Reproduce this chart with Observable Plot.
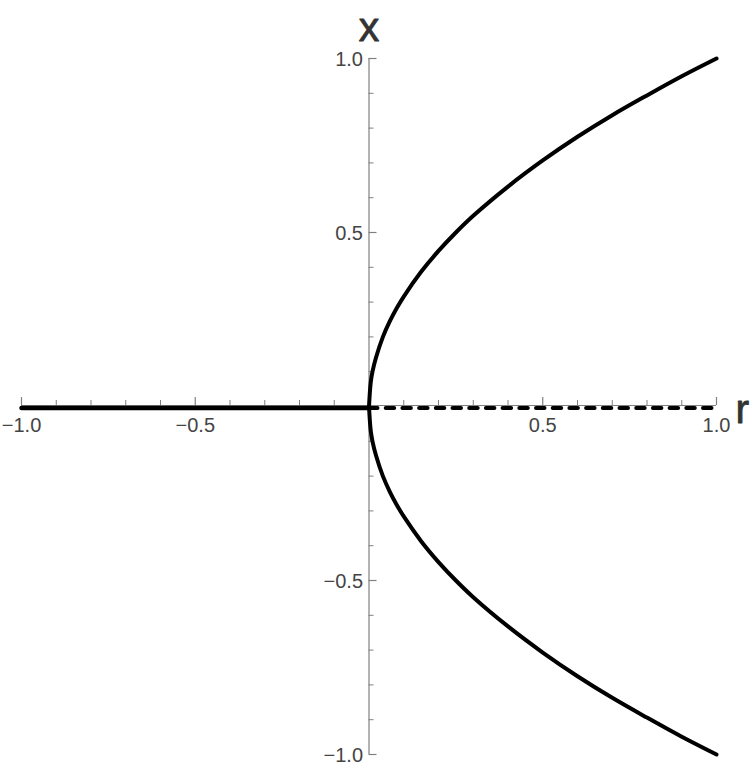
<!DOCTYPE html>
<html>
<head>
<meta charset="utf-8">
<script src="https://cdn.jsdelivr.net/npm/d3@7"></script>
<script src="https://cdn.jsdelivr.net/npm/@observablehq/plot@0.6"></script>
<style>
  html, body { margin: 0; padding: 0; background: #fff; }
  #chart svg { display: block; }
</style>
</head>
<body>
<div id="chart"></div>
<script>
// Stable branch x = 0 for r < 0
const stableZeroR = [-1.0, 0.0];
const stableZeroX = [0, 0];
// Unstable branch x = 0 for r > 0 (dashed)
const unstableZeroR = [0.0, 1.0];
const unstableZeroX = [0, 0];
// Upper stable branch
const upperR = [0, 0.005, 0.01, 0.02, 0.04, 0.06, 0.08, 0.1, 0.15, 0.2, 0.25, 0.3, 0.4, 0.5, 0.6, 0.7, 0.8, 0.9, 1.0];
const upperX = [0, 0.07, 0.1, 0.14, 0.2, 0.245, 0.283, 0.316, 0.387, 0.447, 0.5, 0.548, 0.632, 0.707, 0.775, 0.837, 0.894, 0.949, 1.0];
// Lower stable branch
const lowerR = [0, 0.005, 0.01, 0.02, 0.04, 0.06, 0.08, 0.1, 0.15, 0.2, 0.25, 0.3, 0.4, 0.5, 0.6, 0.7, 0.8, 0.9, 1.0];
const lowerX = [0, -0.07, -0.1, -0.14, -0.2, -0.245, -0.283, -0.316, -0.387, -0.447, -0.5, -0.548, -0.632, -0.707, -0.775, -0.837, -0.894, -0.949, -1.0];

// Axis ticks
const majorTicksR = [-1.0, -0.5, 0.5, 1.0];
const majorLabelsR = ["\u22121.0", "\u22120.5", "0.5", "1.0"];
const minorTicksR = [-0.9, -0.8, -0.7, -0.6, -0.4, -0.3, -0.2, -0.1, 0.1, 0.2, 0.3, 0.4, 0.6, 0.7, 0.8, 0.9];
const majorTicksX = [1.0, 0.5, -0.5, -1.0];
const majorLabelsX = ["1.0", "0.5", "\u22120.5", "\u22121.0"];
const minorTicksX = [0.9, 0.8, 0.7, 0.6, 0.4, 0.3, 0.2, 0.1, -0.1, -0.2, -0.3, -0.4, -0.6, -0.7, -0.8, -0.9];

const toPts = (rs, xs) => rs.map((r, i) => ({r, x: xs[i]}));

const font = "'Liberation Sans', Arial, sans-serif";
const axisColor = "#808080";
const labelColor = "#444444";

const plot = Plot.plot({
  width: 750,
  height: 769,
  marginLeft: 21,
  marginRight: 34,
  marginTop: 58,
  marginBottom: 15,
  x: {domain: [-1, 1], axis: null},
  y: {domain: [-1, 1], axis: null},
  style: {fontFamily: font, background: "#fff", overflow: "visible"},
  marks: [
    // axis lines
    Plot.ruleY([0], {stroke: axisColor, strokeWidth: 1.2, dy: -1}),
    Plot.ruleX([0], {stroke: axisColor, strokeWidth: 1.2}),
    // x-axis ticks (upward)
    Plot.ruleX(majorTicksR, {x: d => d, y1: 0, y2: 0, insetTop: -8, dy: -1, stroke: axisColor, strokeWidth: 1.2}),
    Plot.ruleX(minorTicksR, {x: d => d, y1: 0, y2: 0, insetTop: -5, dy: -1, stroke: axisColor, strokeWidth: 1}),
    // y-axis ticks (rightward)
    Plot.ruleY(majorTicksX, {y: d => d, x1: 0, x2: 0, insetRight: -8, stroke: axisColor, strokeWidth: 1.2}),
    Plot.ruleY(minorTicksX, {y: d => d, x1: 0, x2: 0, insetRight: -5, stroke: axisColor, strokeWidth: 1}),
    // tick labels
    Plot.text(majorTicksR, {x: d => d, y: 0, text: (d, i) => majorLabelsR[i], dy: 19, fontSize: 20, fill: labelColor}),
    Plot.text(majorTicksX, {x: 0, y: d => d, text: (d, i) => majorLabelsX[i], dx: -6, dy: 1, textAnchor: "end", fontSize: 20, fill: labelColor}),
    // axis titles
    Plot.text(["x"], {x: 0, y: 1, text: d => d, dy: -31, fontSize: 41, fill: "#333333", stroke: "#333333", strokeWidth: 0.8}),
    Plot.text(["r"], {x: 1, y: 0, text: d => d, dx: 19, dy: 3, textAnchor: "start", fontSize: 41, fill: "#333333", stroke: "#333333", strokeWidth: 0.8}),
    // data
    Plot.line(toPts(stableZeroR, stableZeroX), {x: "r", y: "x", stroke: "black", strokeWidth: 4.5, dy: 1.5}),
    Plot.line(toPts(unstableZeroR, unstableZeroX), {x: "r", y: "x", stroke: "black", strokeWidth: 4, strokeDasharray: "8.5,8.2", dy: 1.5}),
    Plot.line(toPts(upperR, upperX), {x: "r", y: "x", stroke: "black", strokeWidth: 4, curve: "catmull-rom"}),
    Plot.line(toPts(lowerR, lowerX), {x: "r", y: "x", stroke: "black", strokeWidth: 4, curve: "catmull-rom"})
  ]
});
document.getElementById("chart").appendChild(plot);
</script>
</body>
</html>
